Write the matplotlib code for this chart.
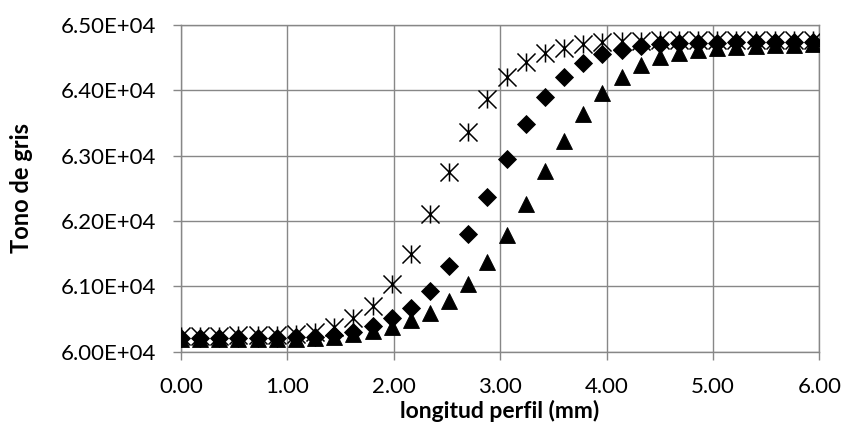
import numpy as np
import matplotlib.pyplot as plt
from matplotlib.path import Path

# perfil de tono de gris a lo largo de la linea (mm)
longitud = [0.00, 0.18, 0.36, 0.54, 0.72, 0.90, 1.08, 1.26, 1.44, 1.62, 1.80, 1.98,
            2.16, 2.34, 2.52, 2.70, 2.88, 3.06, 3.24, 3.42, 3.60, 3.78, 3.96, 4.14,
            4.32, 4.50, 4.68, 4.86, 5.04, 5.22, 5.40, 5.58, 5.76, 5.94]

gris_estrella = [60245, 60245, 60248, 60250, 60255, 60260, 60271, 60306, 60383, 60521,
                 60704, 61037, 61496, 62104, 62757, 63369, 63865, 64211, 64432, 64570,
                 64655, 64712, 64740, 64755, 64762, 64766, 64768, 64770, 64771, 64772,
                 64772, 64773, 64773, 64774]

gris_rombo = [60210, 60210, 60210, 60212, 60213, 60215, 60220, 60232, 60256, 60306,
              60398, 60511, 60674, 60930, 61312, 61798, 62374, 62955, 63485, 63905,
              64211, 64417, 64554, 64620, 64680, 64705, 64718, 64725, 64730, 64733,
              64735, 64737, 64738, 64740]

gris_triangulo = [60190, 60190, 60190, 60192, 60193, 60195, 60198, 60205, 60230, 60271,
                  60322, 60383, 60485, 60588, 60781, 61030, 61369, 61787, 62262, 62770,
                  63225, 63645, 63957, 64211, 64390, 64508, 64570, 64620, 64650, 64670,
                  64685, 64695, 64700, 64705]

y_ticks = [60000, 61000, 62000, 63000, 64000, 65000]
x_ticks = [0, 1, 2, 3, 4, 5, 6]

plt.rcParams['font.family'] = ['Lato', 'DejaVu Sans']

# asterisco tipo Excel: aspa + linea vertical
estrella = Path([(-1, -1), (1, 1), (-1, 1), (1, -1), (0, -1), (0, 1)],
                [Path.MOVETO, Path.LINETO, Path.MOVETO, Path.LINETO, Path.MOVETO, Path.LINETO])

gris = '#878787'

fig = plt.figure(figsize=(8.47, 4.34), dpi=100)
ax = fig.add_axes([0.2137, 0.1896, 0.7538, 0.7528])

ax.plot(longitud, gris_estrella, linestyle='none', marker=estrella, markersize=13,
        markerfacecolor='none', markeredgecolor='black', markeredgewidth=1.1, zorder=3)
ax.plot(longitud, gris_rombo, linestyle='none', marker='D', markersize=9.3,
        color='black', markeredgewidth=0.6, zorder=4)
ax.plot(longitud, gris_triangulo, linestyle='none', marker='^', markersize=12,
        color='black', markeredgewidth=0.6, zorder=5)

ax.set_xlim(0, 6)
ax.set_ylim(60000, 65000)
ax.set_xticks(x_ticks)
ax.set_yticks(y_ticks)
ax.set_xticklabels([f'{v:.2f}' for v in x_ticks])
ax.set_yticklabels([f'{v / 1e4:.2f}E+04' for v in y_ticks])

ax.grid(True, color=gris, linewidth=1.0)
ax.set_axisbelow(True)
for s in ax.spines.values():
    s.set_color(gris)
    s.set_linewidth(1.0)
ax.tick_params(axis='both', direction='out', length=6, width=1.0, color=gris,
               labelsize=16, pad=12, labelcolor='black')

fig.text(0.59, 0.053, 'longitud perfil (mm)', ha='center', va='center',
         fontsize=16.5, fontweight='bold')
fig.text(0.025, 0.567, 'Tono de gris', ha='center', va='center', rotation=90,
         fontsize=17, fontweight='bold')

fig.savefig('out.png', dpi=100)
